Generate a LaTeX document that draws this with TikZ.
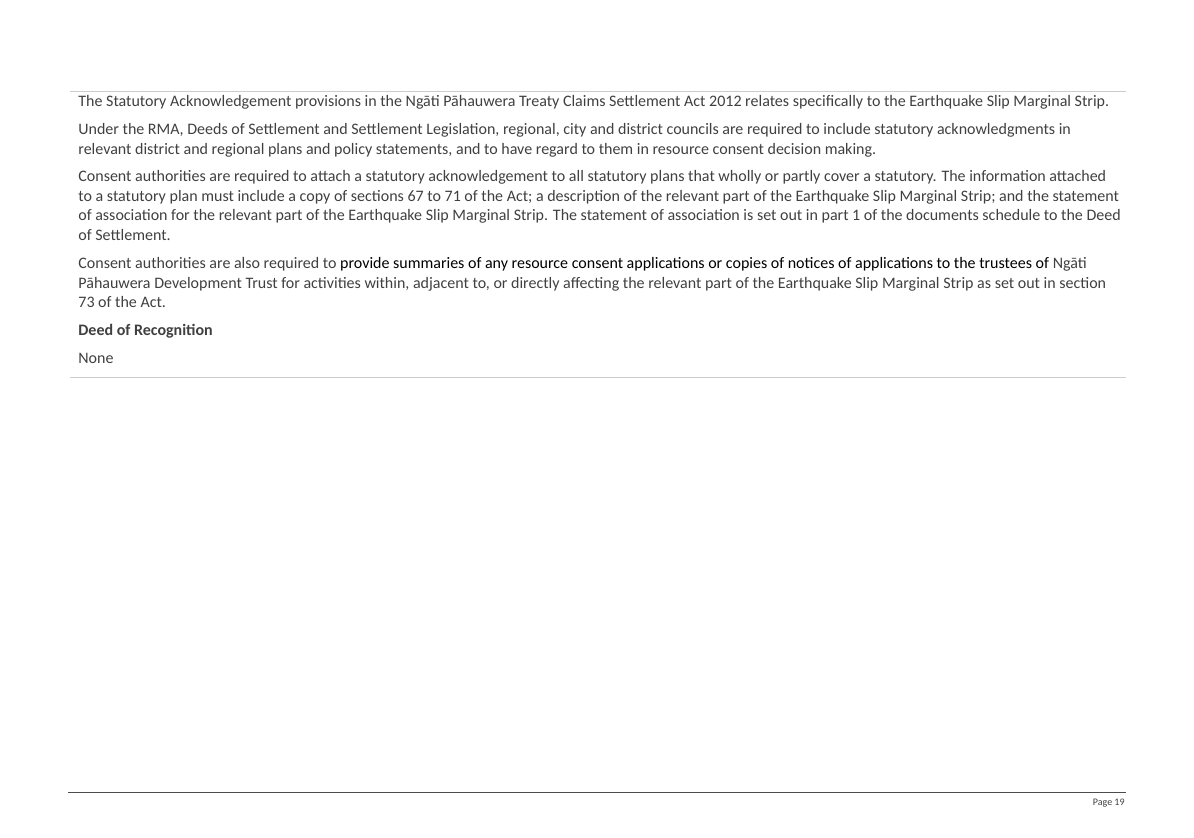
\documentclass[tikz,border=0pt]{standalone}
\usepackage{fontspec}
\setmainfont{Carlito}
\definecolor{txt}{HTML}{404040}
\begin{document}
\begin{tikzpicture}[x=0.5pt,y=-0.5pt,
  ln/.style={anchor=base west,inner sep=0pt,font=\fontsize{8}{9}\selectfont,text=txt}]
\useasboundingbox[fill=white] (0,0) rectangle (1194,837);
\draw[gray!40,line width=0.5pt] (70,91) -- (1126,91);
\draw[gray!40,line width=0.5pt] (70,377) -- (1126,377);
\draw[black!70,line width=0.5pt] (68,792) -- (1126,792);
\node[ln] (l1) at (78,106) {The Statutory Acknowledgement provisions in the Ngāti Pāhauwera Treaty Claims Settlement Act 2012 relates specifically to the Earthquake Slip Marginal Strip.};
\node[ln] (l2) at (78,134) {Under the RMA, Deeds of Settlement and Settlement Legislation, regional, city and district councils are required to include statutory acknowledgments in};
\node[ln] (l3) at (78,154) {relevant district and regional plans and policy statements, and to have regard to them in resource consent decision making.};
\node[ln] (l4) at (78,181) {Consent authorities are required to attach a statutory acknowledgement to all statutory plans that wholly or partly cover a statutory. The information attached};
\node[ln] (l5) at (78,201) {to a statutory plan must include a copy of sections 67 to 71 of the Act; a description of the relevant part of the Earthquake Slip Marginal Strip; and the statement};
\node[ln] (l6) at (78,220) {of association for the relevant part of the Earthquake Slip Marginal Strip. The statement of association is set out in part 1 of the documents schedule to the Deed};
\node[ln] (l7) at (78,240) {of Settlement.};
\node[ln] (l8) at (78,268) {Consent authorities are also required to \textcolor{black}{provide summaries of any resource consent applications or copies of notices of applications to the trustees of} Ngāti};
\node[ln] (l9) at (78,288) {Pāhauwera Development Trust for activities within, adjacent to, or directly affecting the relevant part of the Earthquake Slip Marginal Strip as set out in section};
\node[ln] (l10) at (78,307) {73 of the Act.};
\node[ln,font=\fontsize{8}{9}\selectfont\bfseries] (l11) at (78,335) {Deed of Recognition};
\node[ln] (l12) at (78,363) {None};
\node[anchor=base east,inner sep=0pt,font=\fontsize{5}{6}\selectfont,text=txt] (pg) at (1125,805) {Page 19};
\end{tikzpicture}
\end{document}
